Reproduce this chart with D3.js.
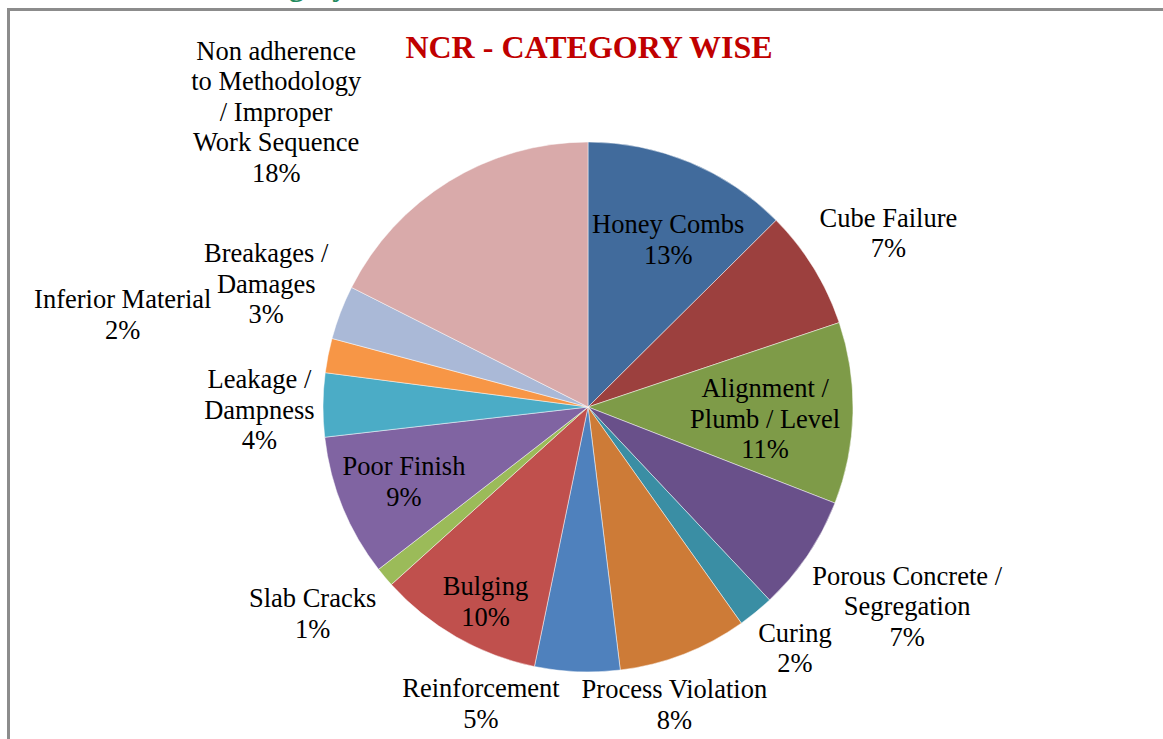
<!DOCTYPE html>
<html>
<head>
<meta charset="utf-8">
<script src="https://cdn.jsdelivr.net/npm/d3@7"></script>
<style>
  body { margin: 0; background: #fff; }
  svg { display: block; }
  text { font-family: "Liberation Serif", "Times New Roman", serif; }
</style>
</head>
<body>
<svg></svg>
<script>
// categories, clockwise from 12 o'clock
const categories = [
  ["Honey Combs"],
  ["Cube Failure"],
  ["Alignment /", "Plumb / Level"],
  ["Porous Concrete /", "Segregation"],
  ["Curing"],
  ["Process Violation"],
  ["Reinforcement"],
  ["Bulging"],
  ["Slab Cracks"],
  ["Poor Finish"],
  ["Leakage /", "Dampness"],
  ["Inferior Material"],
  ["Breakages /", "Damages"],
  ["Non adherence", "to Methodology", "/ Improper", "Work Sequence"]
]
// share of NCRs
const values = [12.6, 7.3, 11.1, 7.1, 2.2, 7.9, 5.2, 10.1, 1.2, 8.7, 3.9, 2.1, 3.3, 17.6]
// percentages as printed on the chart
const pctLabels = ["13%", "7%", "11%", "7%", "2%", "8%", "5%", "10%", "1%", "9%", "4%", "2%", "3%", "18%"]

const colors = ["#416b9c", "#9c403e", "#7e9b48", "#69508a", "#3a8ea4", "#cd7b37",
  "#4f81bd", "#c0504d", "#9bbb59", "#8064a2", "#4bacc6", "#f79646", "#aab9d7", "#d9aaaa"]

// label placement: radius factor and angle nudge (deg) from slice centre line
const labelRadius = [0.70, 1.31, 0.67, 1.42, 1.20, 1.17, 1.19, 0.83, 1.30, 0.75, 1.24, 1.79, 1.30, 1.62]
const labelNudge = [3, 1.6, 2.6, -2, -1.3, 5, 17.5, -2, 3, 0, -1, 0, 0, -15]

const W = 1163, H = 739
const cx = 588, cy = 407, R = 265
const fontSize = 26.5, lineH = 30.5

const svg = d3.select("svg").attr("width", W).attr("height", H)

// cut-off slide heading above the frame (only descenders in view)
svg.append("text")
  .attr("x", 229).attr("y", -4)
  .style("font-size", "30px").style("font-weight", "bold")
  .style("fill", "#238a5e")
  .text("Category wise")

// chart frame (only left and top edges are in view)
svg.append("rect")
  .attr("x", 8.5).attr("y", 9.5)
  .attr("width", 1300).attr("height", 900)
  .attr("fill", "#fff")
  .attr("stroke", "#8c8c8c").attr("stroke-width", 3)

svg.append("text")
  .attr("x", 589).attr("y", 58)
  .attr("text-anchor", "middle")
  .style("font-size", "32px").style("font-weight", "bold")
  .style("fill", "#c00000")
  .text("NCR - CATEGORY WISE")

const pie = d3.pie().sort(null).value(d => d)
const arcs = pie(values)
const arc = d3.arc().innerRadius(0).outerRadius(R)

const g = svg.append("g").attr("transform", `translate(${cx},${cy})`)

g.selectAll("path.slice")
  .data(arcs)
  .enter()
  .append("path")
  .attr("class", "slice")
  .attr("d", arc)
  .attr("fill", (d, i) => colors[i])
  .attr("stroke", "#fff")
  .attr("stroke-opacity", 0.6)
  .attr("stroke-width", 0.8)

const labels = g.selectAll("text.lbl")
  .data(arcs)
  .enter()
  .append("text")
  .attr("class", "lbl")
  .attr("text-anchor", "middle")
  .style("font-size", fontSize + "px")
  .style("fill", "#000")
  .attr("transform", (d, i) => {
    const a = (d.startAngle + d.endAngle) / 2 + labelNudge[i] * Math.PI / 180
    const r = R * labelRadius[i]
    return `translate(${Math.sin(a) * r},${-Math.cos(a) * r})`
  })

labels.each(function (d, i) {
  const lines = categories[i].concat([pctLabels[i]])
  const top = -(lines.length - 1) * lineH / 2
  d3.select(this).selectAll("tspan")
    .data(lines)
    .enter()
    .append("tspan")
    .attr("x", 0)
    .attr("y", (t, j) => top + j * lineH + fontSize * 0.33)
    .text(t => t)
})
</script>
</body>
</html>
